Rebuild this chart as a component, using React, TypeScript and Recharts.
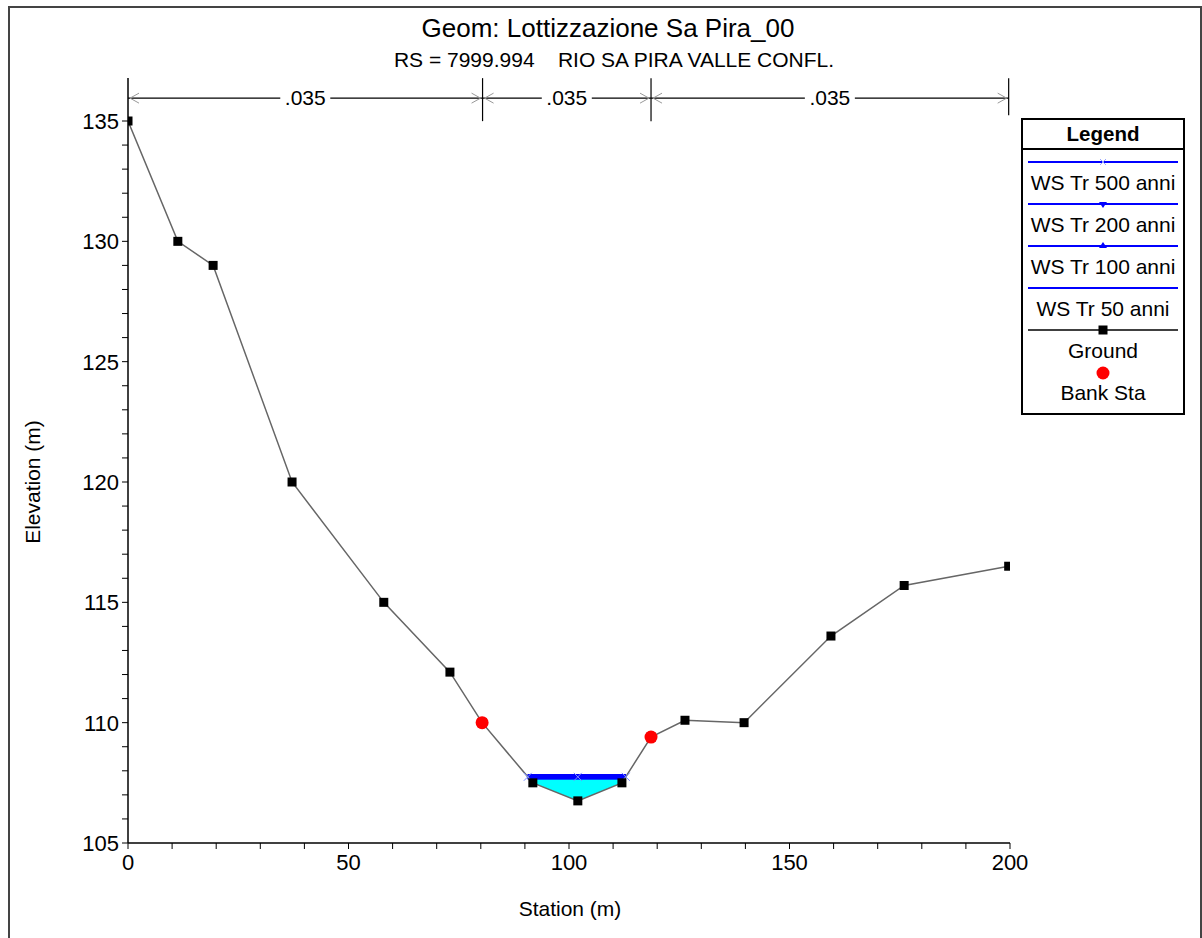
import { ComposedChart, Line, Area, Scatter, XAxis, YAxis, ReferenceLine } from 'recharts'

// ground profile of the cross section
const groundStation = [0, 11.3, 19.3, 37.2, 58.0, 73.0, 80.3, 91.8, 102.0, 112.0, 118.6, 126.3, 139.7, 159.4, 176.0, 199.7]
const groundElev = [135.0, 130.0, 129.0, 120.0, 115.0, 112.1, 110.0, 107.5, 106.75, 107.5, 109.4, 110.1, 110.0, 113.6, 115.7, 116.5]

// bank stations
const bankStation = [80.3, 118.6]
const bankElev = [110.0, 109.4]

// water surface for each return period
const wsStation = [90.65, 102.0, 112.87]
const ws500 = 107.75
const ws200 = 107.75
const ws100 = 107.75
const ws50 = 107.75

// wetted part of the channel under the water surface
const fillStation = [90.65, 91.8, 102.0, 112.0, 112.87]
const fillBed = [107.75, 107.5, 106.75, 107.5, 107.75]

// manning's n bands
const nBounds = [0, 80.4, 118.6, 199.7]
const nValues = ['.035', '.035', '.035']
const nLevel = 135.95

const yTicks = Array.from({ length: 31 }, (_, i) => 105 + i)
const xTicks = Array.from({ length: 21 }, (_, i) => i * 10)

const FONT = '"Liberation Sans", Arial, Helvetica, sans-serif'

const groundData = groundStation.map((x, i) => ({ x, y: groundElev[i] }))
const bankData = bankStation.map((x, i) => ({ x, y: bankElev[i] }))
const wsData = (level: number) => wsStation.map(x => ({ x, y: level }))
const fillData = fillStation.map((x, i) => ({ x, range: [fillBed[i], ws50] }))
const boundData = nBounds.map((x, i) => ({ x, y: nLevel, i }))
const nLabelData = nValues.map((v, i) => ({ x: (nBounds[i] + nBounds[i + 1]) / 2, y: nLevel, v }))

const YTick = ({ x, y, payload }: any) =>
  payload.value % 5 === 0 ? (
    <text x={x} y={y} dy={8} textAnchor="end" fontSize={22} fontFamily={FONT} fill="#000">{payload.value}</text>
  ) : <g />

const XTick = ({ x, y, payload }: any) =>
  payload.value % 50 === 0 ? (
    <text x={x} y={y} dy={17} textAnchor="middle" fontSize={22} fontFamily={FONT} fill="#000">{payload.value}</text>
  ) : <g />

const GroundDot = (p: any) => <rect key={p.index} x={p.cx - 4.5} y={p.cy - 4.5} width={9} height={9} fill="#000" />

const XMark = (p: any) => (
  <g key={p.index} stroke="#7a8cff" strokeWidth={1}>
    <line x1={p.cx - 4} y1={p.cy - 4} x2={p.cx + 4} y2={p.cy + 4} />
    <line x1={p.cx - 4} y1={p.cy + 4} x2={p.cx + 4} y2={p.cy - 4} />
  </g>
)

// vertical divider and arrowheads at each n band boundary
const BoundShape = (p: any) => {
  const { cx, cy, payload } = p
  const first = payload.i === 0
  const last = payload.i === nBounds.length - 1
  return (
    <g>
      {!first && <line x1={cx} y1={cy - 20} x2={cx} y2={cy + (last ? 17 : 23)} stroke="#000" strokeWidth={1.2} />}
      {!last && <polyline points={`${cx + 11},${cy - 5} ${cx + 2},${cy} ${cx + 11},${cy + 5}`} fill="none" stroke="#999" strokeWidth={1} />}
      {!first && <polyline points={`${cx - 11},${cy - 5} ${cx - 2},${cy} ${cx - 11},${cy + 5}`} fill="none" stroke="#999" strokeWidth={1} />}
    </g>
  )
}

const NLabel = (p: any) => (
  <g>
    <rect x={p.cx - 25} y={p.cy - 11} width={50} height={22} fill="#fff" />
    <text x={p.cx} y={p.cy} dy={7} textAnchor="middle" fontSize={21} fontFamily={FONT} fill="#000">{p.payload.v}</text>
  </g>
)

const BankDot = (p: any) => <circle cx={p.cx} cy={p.cy} r={6.5} fill="#ff0000" />

const legendRow = (label: string, sample: any) => (
  <div style={{ textAlign: 'center' }}>
    {sample}
    <div style={{ fontSize: 21, lineHeight: '22px', whiteSpace: 'nowrap' }}>{label}</div>
  </div>
)

const sampleLine = (color: string, marker?: any) => (
  <svg width={150} height={20} style={{ display: 'block', margin: '0 auto' }}>
    <line x1={0} y1={10} x2={150} y2={10} stroke={color} strokeWidth={color === '#000' ? 1.5 : 2} />
    {marker}
  </svg>
)

export default function App() {
  return (
    <div style={{ position: 'absolute', left: 0, top: 0, width: 1202, height: 938, background: '#fff', fontFamily: FONT, overflow: 'hidden' }}>
      <div style={{ position: 'absolute', left: 8, top: 6, width: 1190, height: 940, border: '2px solid #444', borderBottom: 'none' }} />

      <div style={{ position: 'absolute', left: 0, width: 1216, top: 12, textAlign: 'center', fontSize: 26, lineHeight: '32px' }}>
        Geom: Lottizzazione Sa Pira_00
      </div>
      <div style={{ position: 'absolute', left: 0, width: 1228, top: 47, textAlign: 'center', fontSize: 21, lineHeight: '26px', whiteSpace: 'pre' }}>
        {'RS = 7999.994    RIO SA PIRA VALLE CONFL.'}
      </div>

      <ComposedChart width={1202} height={938} margin={{ top: 78, right: 192, bottom: 0, left: 0 }} style={{ position: 'absolute', left: 0, top: 0 }}>
        <XAxis
          type="number"
          dataKey="x"
          domain={[0, 200]}
          ticks={xTicks}
          interval={0}
          tick={<XTick />}
          tickSize={6}
          tickMargin={4}
          height={95}
          axisLine={{ stroke: '#000', strokeWidth: 1.5 }}
          tickLine={{ stroke: '#000' }}
          allowDataOverflow
        />
        <YAxis
          type="number"
          domain={[105, 136.787]}
          ticks={yTicks}
          interval={0}
          tick={<YTick />}
          tickSize={6}
          tickMargin={3}
          width={128}
          axisLine={{ stroke: '#000', strokeWidth: 1.5 }}
          tickLine={{ stroke: '#000' }}
          allowDataOverflow
        />

        <ReferenceLine segment={[{ x: nBounds[0], y: nLevel }, { x: nBounds[nBounds.length - 1], y: nLevel }]} stroke="#000" strokeWidth={1.2} />
        <Scatter data={boundData} dataKey="y" shape={BoundShape} isAnimationActive={false} />
        <Scatter data={nLabelData} dataKey="y" shape={NLabel} isAnimationActive={false} />

        <Area data={fillData} dataKey="range" type="linear" stroke="none" fill="#00ffff" fillOpacity={1} isAnimationActive={false} />

        <Line data={wsData(ws50)} dataKey="y" type="linear" stroke="#0000ff" strokeWidth={5} dot={false} isAnimationActive={false} />
        <Line data={wsData(ws100)} dataKey="y" type="linear" stroke="#0000ff" strokeWidth={5} dot={false} isAnimationActive={false} />
        <Line data={wsData(ws200)} dataKey="y" type="linear" stroke="#0000ff" strokeWidth={5} dot={false} isAnimationActive={false} />
        <Line data={wsData(ws500)} dataKey="y" type="linear" stroke="#0000ff" strokeWidth={5} dot={XMark} isAnimationActive={false} />

        <Line data={groundData} dataKey="y" type="linear" stroke="#666" strokeWidth={1.5} dot={GroundDot} isAnimationActive={false} />
        <Scatter data={bankData} dataKey="y" shape={BankDot} isAnimationActive={false} />
      </ComposedChart>

      <div style={{ position: 'absolute', left: 570, top: 896, transform: 'translateX(-50%)', fontSize: 21, lineHeight: '26px', whiteSpace: 'nowrap' }}>Station (m)</div>
      <div style={{ position: 'absolute', left: 33, top: 482, transform: 'translate(-50%, -50%) rotate(-90deg)', fontSize: 21, lineHeight: '26px', whiteSpace: 'nowrap' }}>Elevation (m)</div>

      <div style={{ position: 'absolute', left: 1021, top: 118, width: 160, height: 293, border: '2px solid #000', background: '#fff' }}>
        <div style={{ textAlign: 'center', fontWeight: 'bold', fontSize: 20.5, lineHeight: '28px', borderBottom: '2px solid #000' }}>Legend</div>
        <div style={{ paddingTop: 2 }}>
          {legendRow('WS Tr 500 anni', sampleLine('#0000ff', <g stroke="#9aa6ff"><line x1={72} y1={7} x2={78} y2={13} /><line x1={72} y1={13} x2={78} y2={7} /></g>))}
          {legendRow('WS Tr 200 anni', sampleLine('#0000ff', <polygon points="71,8 79,8 75,14" fill="#0000ff" />))}
          {legendRow('WS Tr 100 anni', sampleLine('#0000ff', <polygon points="71,12 79,12 75,6" fill="#0000ff" />))}
          {legendRow('WS Tr 50 anni', sampleLine('#0000ff'))}
          {legendRow('Ground', sampleLine('#000', <rect x={70.5} y={5.5} width={9} height={9} fill="#000" />))}
          {legendRow('Bank Sta', <svg width={150} height={20} style={{ display: 'block', margin: '0 auto' }}><circle cx={75} cy={11} r={6.5} fill="#ff0000" /></svg>)}
        </div>
      </div>
    </div>
  )
}
